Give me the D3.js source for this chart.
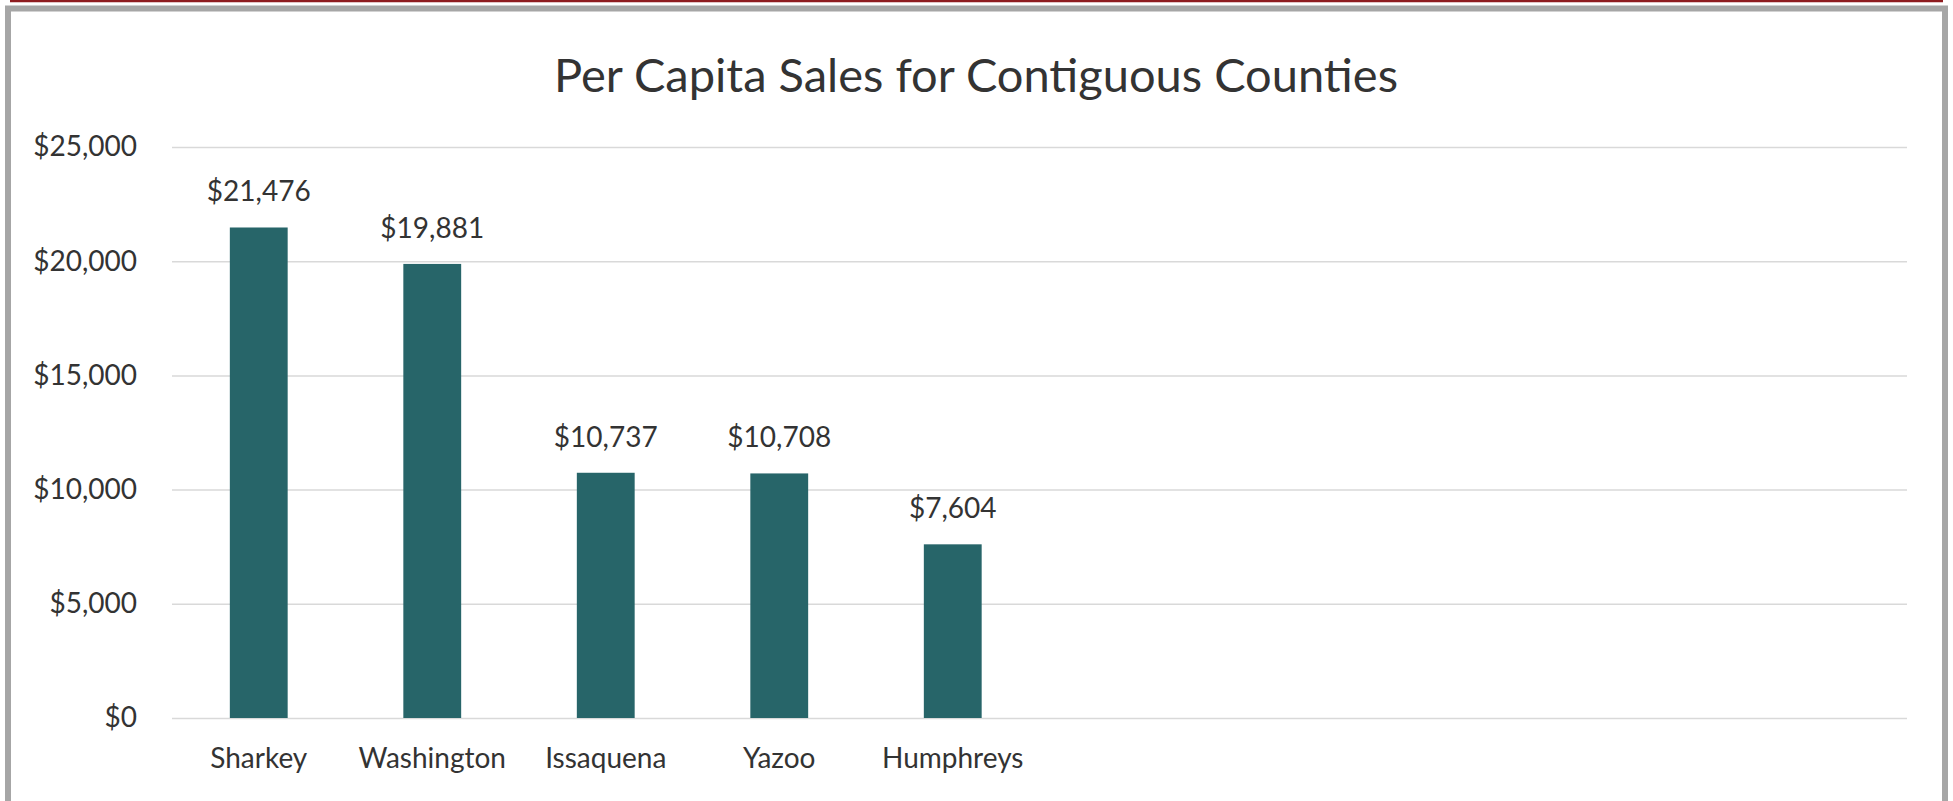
<!DOCTYPE html>
<html>
<head>
<meta charset="utf-8">
<script src="https://cdn.jsdelivr.net/npm/d3@7"></script>
<style>
  html, body { margin: 0; padding: 0; background: #fff; }
  svg { display: block; font-family: Lato, "Open Sans", sans-serif; }
</style>
</head>
<body>
<svg id="chart" width="1953" height="801"></svg>
<script>
const title = "Per Capita Sales for Contiguous Counties"
const counties = ["Sharkey", "Washington", "Issaquena", "Yazoo", "Humphreys"]
const sales = [21476, 19881, 10737, 10708, 7604]
const yTicks = [0, 5000, 10000, 15000, 20000, 25000]
// the axis has room for 10 categories, only the first 5 are filled
const slotCount = 10

const config = {
  width: 1953,
  height: 801,
  plot: { left: 172, right: 1907, top: 147, bottom: 718 },
  barColor: "#276569",
  gridColor: "#d9d9d9",
  textColor: "#333333"
}

const svg = d3.select("#chart")

// frame like the screenshot: dark red rule on top, grey border around
svg.append("line")
    .attr("x1", 10).attr("x2", 1943)
    .attr("y1", 1).attr("y2", 1)
    .attr("stroke", "#8e1b1f")
    .attr("stroke-width", 2.5)
svg.append("path")
    .attr("d", "M8,801 V8.5 H1945 V801")
    .attr("fill", "none")
    .attr("stroke", "#a6a6a6")
    .attr("stroke-width", 6)

const xScale = d3.scaleBand()
    .domain(d3.range(slotCount))
    .range([config.plot.left, config.plot.right])
    .paddingInner(2 / 3)
    .paddingOuter(1 / 3)

const yScale = d3.scaleLinear()
    .domain([0, 25000])
    .range([config.plot.bottom, config.plot.top])

const money = d3.format("$,")

// gridlines + y labels
const yAxis = d3.axisLeft(yScale)
    .tickValues(yTicks)
    .tickFormat(money)
    .tickSize(-(config.plot.right - config.plot.left))
    .tickPadding(35)

svg.append("g")
    .attr("class", "y-axis")
    .attr("transform", `translate(${config.plot.left},0)`)
    .call(yAxis)
    .call(g => g.select(".domain").remove())
    .call(g => g.selectAll(".tick line")
        .attr("stroke", config.gridColor)
        .attr("stroke-width", 1.5))
    .call(g => g.selectAll(".tick text")
        .attr("fill", config.textColor)
        .style("font-size", "28px")
        .style("font-family", "Lato, sans-serif"))

// bars
svg.append("g")
    .selectAll("rect")
    .data(sales)
    .join("rect")
    .attr("x", (d, i) => xScale(i))
    .attr("y", d => yScale(d))
    .attr("width", xScale.bandwidth())
    .attr("height", d => yScale(0) - yScale(d))
    .attr("fill", config.barColor)

// value labels
svg.append("g")
    .selectAll("text")
    .data(sales)
    .join("text")
    .attr("x", (d, i) => xScale(i) + xScale.bandwidth() / 2)
    .attr("y", d => yScale(d) - 26)
    .attr("text-anchor", "middle")
    .attr("fill", config.textColor)
    .style("font-size", "28px")
    .text(d => money(d))

// category labels
svg.append("g")
    .selectAll("text")
    .data(counties)
    .join("text")
    .attr("x", (d, i) => xScale(i) + xScale.bandwidth() / 2)
    .attr("y", config.plot.bottom + 50)
    .attr("text-anchor", "middle")
    .attr("fill", config.textColor)
    .style("font-size", "28px")
    .text(d => d)

svg.append("text")
    .attr("x", 976)
    .attr("y", 92)
    .attr("text-anchor", "middle")
    .attr("fill", config.textColor)
    .style("font-size", "47px")
    .text(title)
</script>
</body>
</html>
